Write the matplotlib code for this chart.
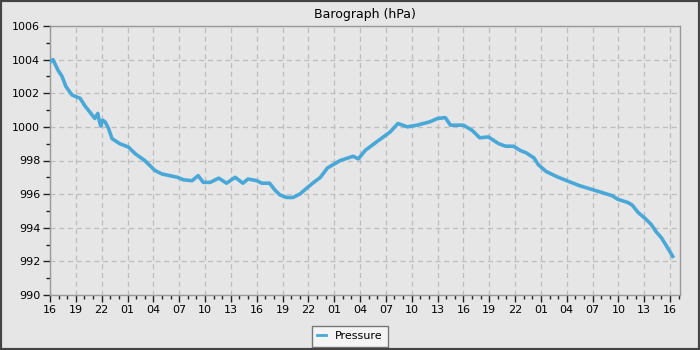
import matplotlib
matplotlib.use("Agg")
import matplotlib.pyplot as plt
from matplotlib.ticker import MultipleLocator, FixedLocator, FixedFormatter
from matplotlib.patches import Rectangle

# hours since start (16:00 on day 1)
hours = [0.0, 0.35, 0.9, 1.4, 1.85, 2.55, 3.0, 3.5, 4.05, 4.6, 5.2, 5.55, 5.7, 5.9, 6.1, 6.4,
         6.8, 7.2, 8.1, 9.1, 9.9, 11.0, 11.6, 12.2, 13.0, 14.8, 15.5, 16.5, 17.2, 17.8,
         18.6, 19.6, 20.5, 21.5, 22.4, 23.0, 24.0, 24.6, 25.5, 26.1, 26.7, 27.5, 28.2,
         29.0, 29.8, 30.5, 31.4, 32.2, 33.7, 35.2, 35.8, 36.6, 37.9, 39.5, 40.4, 41.5,
         42.6, 44.1, 45.0, 45.9, 46.5, 48.0, 49.0, 49.9, 50.9, 51.5, 52.1, 52.9, 53.8,
         54.6, 55.3, 56.2, 56.7, 57.6, 58.8, 60.0, 61.5, 63.1, 64.7, 65.3, 65.9, 67.1,
         67.6, 68.3, 69.0, 69.8, 70.4, 71.0, 71.6, 72.3]
pressure = [1003.85, 1004.0, 1003.4, 1003.0, 1002.4, 1001.9, 1001.8, 1001.7, 1001.25,
            1000.9, 1000.5, 1000.8, 1000.4, 1000.05, 1000.4, 1000.3, 999.9, 999.3, 999.0,
            998.8, 998.4, 998.0, 997.7, 997.4, 997.2, 997.0, 996.85, 996.8, 997.1, 996.7,
            996.7, 996.95, 996.65, 997.0, 996.65, 996.9, 996.8, 996.65, 996.65, 996.25,
            995.95, 995.8, 995.8, 996.0, 996.35, 996.65, 997.0, 997.55, 998.0, 998.25,
            998.1, 998.6, 999.1, 999.7, 1000.2, 1000.0, 1000.1, 1000.3, 1000.5, 1000.55,
            1000.1, 1000.1, 999.8, 999.35, 999.4, 999.2, 999.0, 998.85, 998.85, 998.6,
            998.45, 998.15, 997.75, 997.35, 997.05, 996.8, 996.5, 996.25, 996.0, 995.9,
            995.7, 995.5, 995.35, 994.9, 994.6, 994.2, 993.75, 993.4, 992.9, 992.3]

start_hour = 16
tick_hours = list(range(0, 73, 3))
tick_labels = ["%02d" % ((start_hour + h) % 24) for h in tick_hours]

bg = "#e6e6e6"
fig = plt.figure(figsize=(7, 3.5), dpi=100, facecolor=bg)
fig.patches.append(Rectangle((0, 0), 1, 1, transform=fig.transFigure, fill=False,
                             edgecolor="#444444", linewidth=3, zorder=10))
ax = fig.add_axes([50/700, 1-295/350, 630/700, 269/350])
ax.set_facecolor(bg)

ax.plot(hours, pressure, color="#4aa8d8", linewidth=2.6, label="Pressure", zorder=3)

ax.set_xlim(0, 73.15)
ax.set_ylim(990, 1006)
ax.xaxis.set_major_locator(FixedLocator(tick_hours))
ax.xaxis.set_major_formatter(FixedFormatter(tick_labels))
ax.xaxis.set_minor_locator(MultipleLocator(1))
ax.yaxis.set_major_locator(MultipleLocator(2))
ax.yaxis.set_minor_locator(MultipleLocator(1))
ax.tick_params(which="major", length=5, width=1, color="#222222", labelsize=8, pad=2)
ax.tick_params(which="minor", length=3, width=1, color="#222222")
ax.grid(True, which="major", color="#bdbdbd", linestyle=(0, (4, 3)), linewidth=0.9)
for s in ax.spines.values():
    s.set_color("#999999")
    s.set_linewidth(1)

ax.set_title("Barograph (hPa)", fontsize=9, pad=6)

leg = fig.legend(loc="lower center", bbox_to_anchor=(0.5, 0.009), fontsize=8,
                 handlelength=0.8, fancybox=False, framealpha=1, facecolor="#f4f4f4",
                 edgecolor="#777777", borderpad=0.5, borderaxespad=0)
leg.get_frame().set_linewidth(1)
for h in leg.get_lines():
    h.set_linewidth(2)

fig.savefig("out.png", dpi=100, facecolor=bg)
